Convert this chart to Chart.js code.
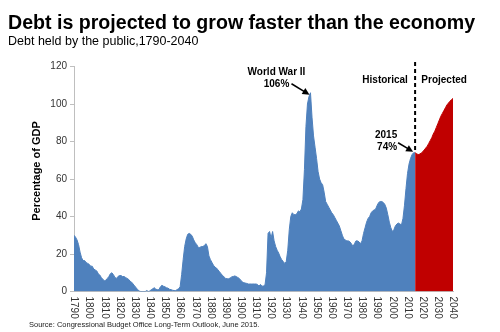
<!DOCTYPE html>
<html>
<head>
<meta charset="utf-8">
<script src="https://cdn.jsdelivr.net/npm/chart.js@4.4.1/dist/chart.umd.min.js"></script>
<style>
  body { margin: 0; background: #fff; font-family: Arial, "Liberation Sans", sans-serif; }
  #wrap { position: relative; width: 500px; height: 332px; overflow: hidden; }
  #myChart { position: absolute; left: 0; top: 0; }
  .txt { position: absolute; white-space: nowrap; line-height: 1; color: #000; }
  #title { left: 8px; top: 13px; font-size: 19.6px; font-weight: bold; }
  #subtitle { left: 8px; top: 35px; font-size: 12.5px; }
  #source { left: 29px; top: 321px; font-size: 7.5px; color: #222; }
</style>
</head>
<body>
<div id="wrap">
  <canvas id="myChart" width="500" height="332"></canvas>
  <div class="txt" id="title">Debt is projected to grow faster than the economy</div>
  <div class="txt" id="subtitle">Debt held by the public,1790-2040</div>
  <div class="txt" id="source">Source: Congressional Budget Office Long-Term Outlook, June 2015.</div>
</div>
<script>
// debt held by the public, % of GDP, one value per year
const histStart = 1790;
const histDebt = [
    30, 29, 27.5, 25, 21, 18, 16.5, 16.5, 15.5, 15,          // 1790s
    14.5, 13.5, 13.5, 12, 11.5, 11, 9.5, 8.8, 7.5, 6.5,      // 1800s
    5.8, 6, 7, 8, 9.5, 10, 9, 7.5, 7, 8,                     // 1810s
    8.5, 8.5, 8, 8, 7.5, 7, 6.5, 5.5, 5, 4,                  // 1820s
    3, 2, 1, 0.3, 0, 0, 0, 0, 0.5, 0,                        // 1830s
    0.3, 1, 1.5, 2, 1.2, 1, 1, 2.5, 3.3, 2.8,                // 1840s
    2.5, 2, 1.8, 1.2, 1, 0.7, 0.5, 0.5, 1, 1.5,              // 1850s
    2.5, 9, 17, 24, 28, 30.5, 31, 30.5, 29.5, 27.5,          // 1860s
    26, 25, 23.5, 23.5, 24, 24, 24.5, 25.5, 24, 19,          // 1870s
    17, 15.5, 14, 13, 12.5, 11.5, 10.5, 9.5, 8.5, 7.8,       // 1880s
    7, 6.8, 6.8, 7.2, 7.8, 8, 8.3, 8, 7.5, 7,                // 1890s
    6, 5.2, 4.7, 4.5, 4.3, 4, 4, 4, 4, 4,                    // 1900s
    4, 3.8, 2.9, 3.8, 2.8, 3, 3.5, 10, 31, 32,               // 1910s
    28.5, 32, 27, 24, 22, 20.5, 18.5, 17, 16, 15,            // 1920s
    16, 22, 33, 40, 42, 41, 41, 41.5, 43, 42.5,              // 1930s
    44, 49, 65, 88, 100, 104, 106, 93, 83, 77,               // 1940s
    71, 64, 60, 58, 57, 53, 48, 46.5, 45, 43.5,              // 1950s
    42, 41, 39.5, 38, 36.5, 35, 32.5, 30, 28, 27.5,          // 1960s
    27, 27, 26.5, 25.5, 24, 25.5, 27, 27, 26.5, 25.5,        // 1970s
    27, 31, 34, 37, 39, 40, 42, 43, 43.5, 44,                // 1980s
    46, 47.5, 48, 48, 47.5, 46.5, 44.5, 41, 37, 34,          // 1990s
    32, 33, 35, 36, 36.5, 36, 35.5, 39, 46, 55,              // 2000s
    63, 68, 71, 73, 74, 74                                   // 2010-2015
];
const projStart = 2015;
const projDebt = [
    74, 73.5, 73, 73.3, 73.8, 74.5, 75.5, 76.5, 77.5, 79,
    80.5, 82, 84, 85.5, 87.5, 89.5, 91.5, 93.5, 95, 96.5,
    98, 99.5, 100.5, 101.5, 102.3, 103
];
const yTicks = { min: 0, max: 120, step: 20 };
const xTicks = { min: 1790, max: 2040, step: 10 };

const blue = "#4F81BD";
const red = "#C00000";
const font = "Arial, 'Liberation Sans', sans-serif";

function toPoints(start, values) {
    return values.map((v, i) => ({ x: start + i, y: v }));
}

function arrow(ctx, x1, y1, x2, y2) {
    const a = Math.atan2(y2 - y1, x2 - x1);
    ctx.beginPath();
    ctx.moveTo(x1, y1);
    ctx.lineTo(x2 - 5 * Math.cos(a), y2 - 5 * Math.sin(a));
    ctx.stroke();
    ctx.beginPath();
    ctx.moveTo(x2, y2);
    ctx.lineTo(x2 - 7 * Math.cos(a) + 3.5 * Math.sin(a), y2 - 7 * Math.sin(a) - 3.5 * Math.cos(a));
    ctx.lineTo(x2 - 7 * Math.cos(a) - 3.5 * Math.sin(a), y2 - 7 * Math.sin(a) + 3.5 * Math.cos(a));
    ctx.closePath();
    ctx.fill();
}

// x labels read top-to-bottom, axis title, notes and arrows
const notes = {
    id: "notes",
    afterDraw(chart) {
        const { ctx, scales: { x, y } } = chart;
        ctx.save();
        ctx.fillStyle = "#333";
        ctx.font = "10px " + font;
        x.ticks.forEach(t => {
            ctx.save();
            ctx.translate(x.getPixelForValue(t.value), y.bottom + 5);
            ctx.rotate(Math.PI / 2);
            ctx.textAlign = "left";
            ctx.textBaseline = "middle";
            ctx.fillText(String(t.value), 0, 0);
            ctx.restore();
        });

        ctx.fillStyle = "#000";
        ctx.strokeStyle = "#000";
        ctx.textAlign = "center";
        ctx.textBaseline = "middle";

        ctx.save();
        ctx.font = "bold 11px " + font;
        ctx.translate(37, (y.top + y.bottom) / 2 - 8);
        ctx.rotate(-Math.PI / 2);
        ctx.fillText("Percentage of GDP", 0, 0);
        ctx.restore();

        ctx.font = "bold 10px " + font;
        const wx = x.getPixelForValue(1946), wy = y.getPixelForValue(106);
        ctx.fillText("World War II", wx - 34, wy - 21);
        ctx.fillText("106%", wx - 34, wy - 9);
        ctx.lineWidth = 1.5;
        arrow(ctx, wx - 19, wy - 9, wx - 1, wy + 2);

        const px = x.getPixelForValue(2015), py = y.getPixelForValue(74);
        ctx.fillText("2015", px - 29, py - 18);
        ctx.fillText("74%", px - 28, py - 6);
        arrow(ctx, px - 17, py - 10, px - 2, py - 1);

        const hy = y.getPixelForValue(112.5);
        ctx.fillText("Historical", px - 30, hy);
        ctx.fillText("Projected", px + 29, hy);

        ctx.lineWidth = 2;
        ctx.setLineDash([4, 3]);
        ctx.beginPath();
        ctx.moveTo(px, y.getPixelForValue(122.4));
        ctx.lineTo(px, py);
        ctx.stroke();
        ctx.restore();
    }
};

const ctx = document.getElementById("myChart").getContext("2d");
const myChart = new Chart(ctx, {
    type: "line",
    data: {
        datasets: [{
            data: toPoints(histStart, histDebt),
            borderColor: blue,
            backgroundColor: blue,
            borderWidth: 1,
            fill: "origin",
            pointRadius: 0,
            tension: 0
        }, {
            data: toPoints(projStart, projDebt),
            borderColor: red,
            backgroundColor: red,
            borderWidth: 1,
            fill: "origin",
            pointRadius: 0,
            tension: 0
        }]
    },
    options: {
        responsive: false,
        animation: false,
        layout: { padding: { top: 66.5, right: 47, bottom: 0, left: 0 } },
        plugins: {
            legend: { display: false },
            tooltip: { enabled: false }
        },
        scales: {
            x: {
                type: "linear",
                min: xTicks.min,
                max: xTicks.max,
                ticks: { stepSize: xTicks.step, display: false },
                grid: { display: false },
                border: { display: true, color: "#bfbfbf", width: 1 },
                afterFit(scale) { scale.height = 40.5; }
            },
            y: {
                min: yTicks.min,
                max: yTicks.max,
                ticks: {
                    stepSize: yTicks.step,
                    color: "#333",
                    padding: 3,
                    font: { family: font, size: 10 }
                },
                grid: { drawOnChartArea: false, tickLength: 4, color: "#bfbfbf" },
                border: { display: true, color: "#bfbfbf", width: 1 },
                afterFit(scale) { scale.width = 74; }
            }
        }
    },
    plugins: [notes]
});
</script>
</body>
</html>
